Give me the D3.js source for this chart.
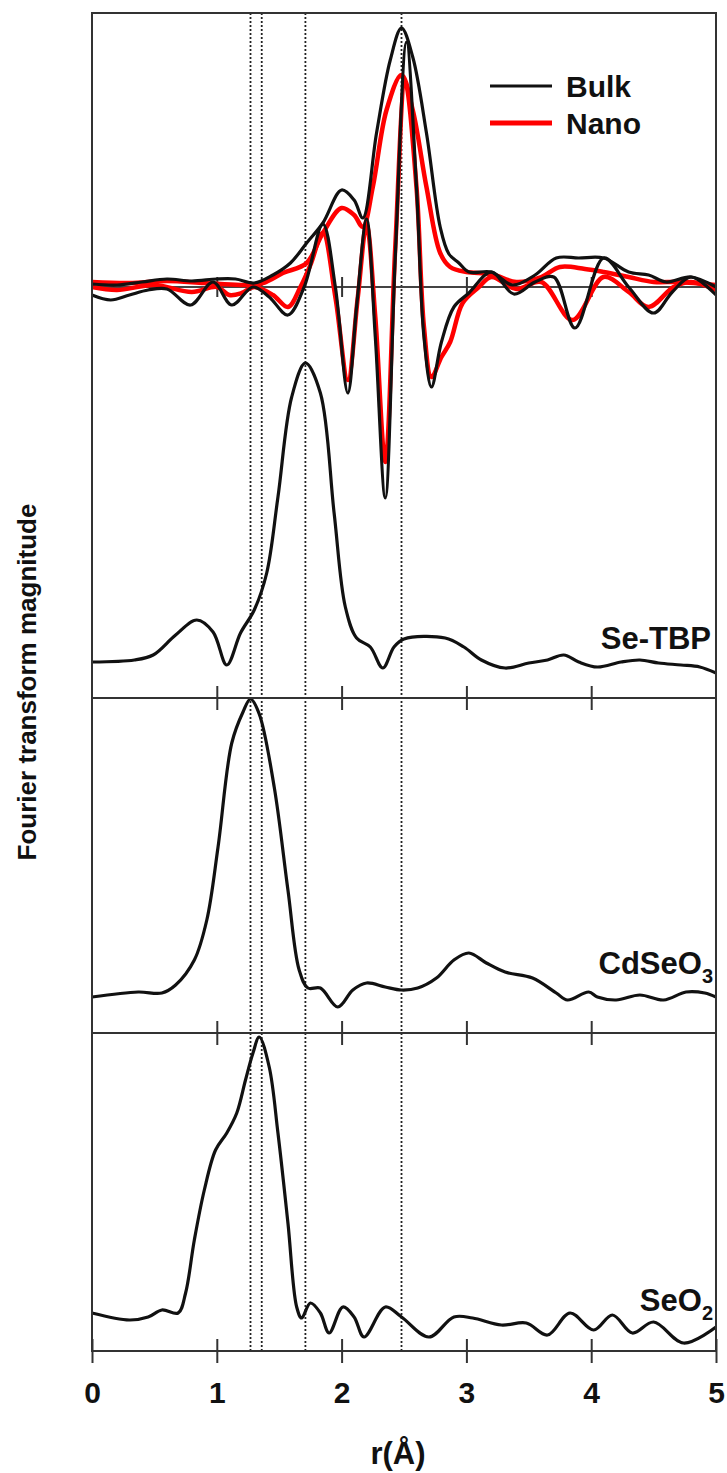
<!DOCTYPE html>
<html>
<head>
<meta charset="utf-8">
<script src="https://cdn.jsdelivr.net/npm/d3@7"></script>
<style>
  html, body { margin: 0; padding: 0; background: #fff; }
  svg text { font-family: "Liberation Sans", Arial, sans-serif; font-weight: bold; fill: #111; }
</style>
</head>
<body>
<div class="chart"></div>
<script>
// r (Angstrom) vs FT magnitude, arbitrary units
var bulkMag = [[0,0.03],[0.2,0.02],[0.4,0.05],[0.6,0.08],[0.8,0.06],[1.0,0.08],[1.15,0.08],[1.3,0.04],[1.45,0.12],[1.59,0.24],[1.72,0.44],[1.85,0.64],[2.0,0.97],[2.1,0.87],[2.17,0.69],[2.28,1.54],[2.39,2.27],[2.48,2.59],[2.57,2.3],[2.68,1.54],[2.79,0.6],[2.86,0.33],[2.94,0.24],[3.02,0.15],[3.2,0.15],[3.37,0.02],[3.55,0.12],[3.72,0.29],[3.9,0.29],[4.1,0.29],[4.3,0.15],[4.46,0.12],[4.6,0.05],[4.8,0.1],[5.0,0.0]];
var bulkRe = [[0,-0.08],[0.15,-0.13],[0.3,-0.08],[0.45,-0.03],[0.6,-0.02],[0.79,-0.18],[0.97,0.05],[1.12,-0.18],[1.29,0.0],[1.42,-0.1],[1.57,-0.28],[1.7,0.0],[1.85,0.63],[1.95,0.0],[2.05,-1.06],[2.12,-0.2],[2.2,0.68],[2.27,-0.5],[2.35,-2.11],[2.43,0.3],[2.52,2.45],[2.6,1.0],[2.66,-0.5],[2.72,-1.0],[2.8,-0.55],[2.9,-0.2],[3.02,-0.06],[3.2,0.15],[3.38,-0.07],[3.55,0.05],[3.7,0.1],[3.87,-0.41],[4.1,0.29],[4.3,0.0],[4.5,-0.26],[4.65,-0.05],[4.8,0.1],[5.0,-0.08]];
var nanoMag = [[0,0.05],[0.3,0.04],[0.6,0.06],[0.9,0.04],[1.2,0.02],[1.37,0.04],[1.53,0.14],[1.72,0.24],[1.85,0.54],[2.0,0.79],[2.1,0.72],[2.17,0.6],[2.25,1.0],[2.36,1.77],[2.48,2.12],[2.57,1.77],[2.68,1.0],[2.79,0.34],[2.87,0.2],[3.0,0.15],[3.2,0.13],[3.4,0.05],[3.6,0.1],[3.75,0.2],[3.95,0.18],[4.1,0.15],[4.3,0.1],[4.5,0.05],[4.7,0.05],[5.0,0.02]];
var nanoRe = [[0,0.0],[0.2,-0.03],[0.5,0.02],[0.8,-0.05],[1.0,0.0],[1.1,-0.08],[1.2,-0.06],[1.3,0.0],[1.45,-0.08],[1.57,-0.2],[1.67,0.0],[1.75,0.22],[1.85,0.54],[1.95,-0.1],[2.05,-0.93],[2.13,-0.1],[2.2,0.62],[2.27,-0.3],[2.35,-1.75],[2.43,0.4],[2.51,2.05],[2.6,1.0],[2.66,-0.4],[2.72,-0.9],[2.8,-0.7],[2.87,-0.55],[2.97,-0.16],[3.1,0.0],[3.2,0.1],[3.4,-0.02],[3.6,0.05],[3.85,-0.33],[4.1,0.1],[4.3,-0.05],[4.46,-0.2],[4.66,0.0],[4.8,0.05],[5.0,-0.03]];
var seTbp = [[0,0.18],[0.34,0.2],[0.49,0.25],[0.67,0.45],[0.84,0.6],[0.97,0.48],[1.08,0.15],[1.19,0.47],[1.3,0.7],[1.4,1.07],[1.49,1.83],[1.6,2.83],[1.71,3.17],[1.83,2.87],[1.94,1.67],[2.03,0.73],[2.12,0.42],[2.23,0.33],[2.33,0.12],[2.42,0.33],[2.5,0.41],[2.83,0.42],[2.98,0.33],[3.12,0.2],[3.31,0.12],[3.5,0.17],[3.65,0.2],[3.78,0.25],[3.9,0.18],[4.05,0.13],[4.24,0.18],[4.39,0.2],[4.54,0.17],[4.72,0.15],[4.87,0.13],[5.0,0.07]];
var cdSeO3 = [[0,0.23],[0.37,0.28],[0.56,0.27],[0.67,0.35],[0.82,0.6],[0.92,1.0],[1.01,1.73],[1.12,2.77],[1.21,3.08],[1.27,3.21],[1.34,3.06],[1.46,2.33],[1.57,1.3],[1.66,0.5],[1.73,0.32],[1.83,0.32],[1.97,0.13],[2.09,0.3],[2.2,0.37],[2.35,0.33],[2.48,0.3],[2.61,0.32],[2.76,0.42],[2.9,0.6],[3.02,0.67],[3.16,0.57],[3.31,0.48],[3.53,0.42],[3.72,0.27],[3.81,0.2],[3.98,0.28],[4.05,0.23],[4.2,0.2],[4.39,0.25],[4.58,0.2],[4.76,0.28],[4.91,0.27],[5.0,0.23]];
var seO2 = [[0,0.37],[0.3,0.3],[0.45,0.33],[0.56,0.4],[0.69,0.37],[0.75,0.57],[0.82,1.1],[0.9,1.6],[0.99,2.0],[1.08,2.17],[1.16,2.37],[1.23,2.7],[1.29,2.97],[1.34,3.13],[1.42,2.83],[1.49,2.17],[1.57,1.27],[1.64,0.43],[1.68,0.32],[1.75,0.47],[1.83,0.37],[1.9,0.17],[2.01,0.43],[2.1,0.33],[2.18,0.13],[2.35,0.43],[2.48,0.33],[2.7,0.13],[2.9,0.33],[3.05,0.32],[3.28,0.25],[3.48,0.27],[3.65,0.15],[3.83,0.37],[4.02,0.2],[4.17,0.35],[4.33,0.17],[4.5,0.28],[4.74,0.07],[5.0,0.23]];

var xTicks = [0, 1, 2, 3, 4, 5];
var dottedR = [1.27, 1.36, 1.71, 2.48];
var seriesNames = ["Bulk", "Nano"];
var seTbpOffset = -3.93;

var W = 727, H = 1473;
var left = 92, right = 716;
var panels = [
  {top: 13, bottom: 698, domain: [-4.11, 2.74]},
  {top: 698, bottom: 1033, domain: [-0.13, 3.22]},
  {top: 1033, bottom: 1351, domain: [-0.01, 3.17]}
];

var svg = d3.select(".chart").append("svg")
  .attr("width", W).attr("height", H);

var x = d3.scaleLinear().domain([0, 5]).range([left, right]);
panels.forEach(function(p){
  p.y = d3.scaleLinear().domain(p.domain).range([p.bottom, p.top]);
});

function lineFor(yScale, offset){
  return d3.line()
    .x(function(d){ return x(d[0]); })
    .y(function(d){ return yScale(d[1] + (offset || 0)); })
    .curve(d3.curveCatmullRom.alpha(0.5));
}

// dotted reference lines
svg.append("g").selectAll("line").data(dottedR).enter().append("line")
  .attr("x1", function(d){ return x(d); }).attr("x2", function(d){ return x(d); })
  .attr("y1", panels[0].top).attr("y2", panels[2].bottom)
  .attr("stroke", "#222").attr("stroke-width", 1.8)
  .attr("stroke-dasharray", "2,2");

// zero line of the top panel
var zero = svg.append("g")
  .attr("transform", "translate(0," + panels[0].y(0) + ")")
  .call(d3.axisBottom(x).tickValues([1, 2, 3, 4]).tickSize(10).tickFormat(""));
zero.select(".domain").attr("stroke", "#444").attr("stroke-width", 2).attr("d", "M" + left + ",0H" + right);
zero.selectAll(".tick line").attr("y1", -10).attr("stroke", "#333").attr("stroke-width", 2);

// curves
var p0 = panels[0];
svg.append("path").datum(nanoMag).attr("d", lineFor(p0.y))
  .attr("fill", "none").attr("stroke", "#f00").attr("stroke-width", 4.5);
svg.append("path").datum(nanoRe).attr("d", lineFor(p0.y))
  .attr("fill", "none").attr("stroke", "#f00").attr("stroke-width", 4.5);
svg.append("path").datum(bulkMag).attr("d", lineFor(p0.y))
  .attr("fill", "none").attr("stroke", "#111").attr("stroke-width", 3.2);
svg.append("path").datum(bulkRe).attr("d", lineFor(p0.y))
  .attr("fill", "none").attr("stroke", "#111").attr("stroke-width", 3.2);
svg.append("path").datum(seTbp).attr("d", lineFor(p0.y, seTbpOffset))
  .attr("fill", "none").attr("stroke", "#111").attr("stroke-width", 3.2);
svg.append("path").datum(cdSeO3).attr("d", lineFor(panels[1].y))
  .attr("fill", "none").attr("stroke", "#111").attr("stroke-width", 3.2);
svg.append("path").datum(seO2).attr("d", lineFor(panels[2].y))
  .attr("fill", "none").attr("stroke", "#111").attr("stroke-width", 3.2);

// frame
svg.append("rect")
  .attr("x", left).attr("y", panels[0].top)
  .attr("width", right - left).attr("height", panels[2].bottom - panels[0].top)
  .attr("fill", "none").attr("stroke", "#333").attr("stroke-width", 2);

// separators with crossing ticks
[panels[0].bottom, panels[1].bottom].forEach(function(yy){
  var g = svg.append("g").attr("transform", "translate(0," + yy + ")")
    .call(d3.axisBottom(x).tickValues([1, 2, 3, 4]).tickSize(12).tickFormat(""));
  g.select(".domain").attr("stroke", "#333").attr("stroke-width", 2).attr("d", "M" + left + ",0H" + right);
  g.selectAll(".tick line").attr("y1", -12).attr("stroke", "#333").attr("stroke-width", 2);
});

// bottom axis
var xAxis = svg.append("g").attr("transform", "translate(0," + panels[2].bottom + ")")
  .call(d3.axisBottom(x).tickValues(xTicks).tickSize(12).tickPadding(19).tickFormat(d3.format("d")));
xAxis.select(".domain").attr("stroke", "#333").attr("stroke-width", 2).attr("d", "M" + left + ",0H" + right);
xAxis.selectAll(".tick line").attr("y1", -12).attr("stroke", "#333").attr("stroke-width", 2);
xAxis.selectAll(".tick text").attr("font-size", 30)
  .style("font-family", "'Liberation Sans', Arial, sans-serif").style("font-weight", "bold").attr("fill", "#111");

svg.append("text").attr("x", x(2.5) - 6).attr("y", 1464)
  .attr("text-anchor", "middle").attr("font-size", 31).text("r(Å)");

svg.append("text")
  .attr("transform", "translate(36," + 682 + ") rotate(-90)")
  .attr("text-anchor", "middle").attr("font-size", 26)
  .text("Fourier transform magnitude");

// legend
var legend = svg.append("g");
var legendColors = ["#111", "#f00"];
var legendWidths = [3.2, 5];
seriesNames.forEach(function(name, i){
  var ly = 86 + i * 37;
  legend.append("line").attr("x1", 490).attr("x2", 552).attr("y1", ly).attr("y2", ly)
    .attr("stroke", legendColors[i]).attr("stroke-width", legendWidths[i]);
  legend.append("text").attr("x", 566).attr("y", ly + 11).attr("font-size", 30).text(name);
});

// sample labels
svg.append("text").attr("x", 711).attr("y", 649).attr("text-anchor", "end")
  .attr("font-size", 31).text("Se-TBP");

var t2 = svg.append("text").attr("x", 713).attr("y", 974).attr("text-anchor", "end").attr("font-size", 31);
t2.append("tspan").text("CdSeO");
t2.append("tspan").attr("font-size", 20).attr("dy", 9).text("3");

var t3 = svg.append("text").attr("x", 713).attr("y", 1311).attr("text-anchor", "end").attr("font-size", 31);
t3.append("tspan").text("SeO");
t3.append("tspan").attr("font-size", 20).attr("dy", 9).text("2");
</script>
</body>
</html>
